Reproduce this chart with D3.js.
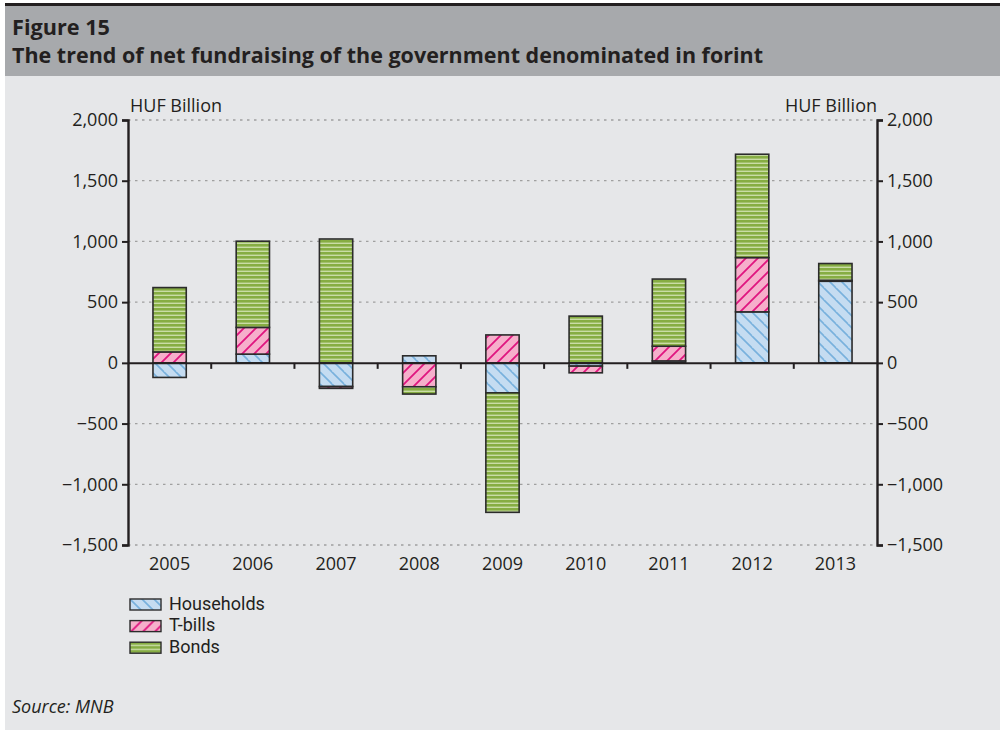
<!DOCTYPE html>
<html>
<head>
<meta charset="utf-8">
<script src="https://cdn.jsdelivr.net/npm/d3@7"></script>
<style>
  body { margin: 0; background: #fff; }
  svg { display: block; font-family: "Open Sans", "Noto Sans", sans-serif; }
</style>
</head>
<body>
<div id="chart"></div>
<script>
// data (HUF billion)
var years = ['2005', '2006', '2007', '2008', '2009', '2010', '2011', '2012', '2013'];
var households = [-120, 72, -195, 58, -247, -27, 16, 420, 672];
var tbills = [90, 220, -15, -197, 230, -55, 121, 447, 8];
var bonds = [530, 710, 1020, -60, -984, 385, 553, 851, 138];
var yTicks = [-1500, -1000, -500, 0, 500, 1000, 1500, 2000];

var seriesNames = ['Households', 'T-bills', 'Bonds'];

var svgWidth = 1000, svgHeight = 730;

var svg = d3.select('#chart').append('svg')
  .attr('width', svgWidth)
  .attr('height', svgHeight);

// background panel + header
svg.append('rect').attr('x', 5).attr('y', 5).attr('width', 995).attr('height', 725).attr('fill', '#e6e7e9');
svg.append('rect').attr('x', 5).attr('y', 5).attr('width', 995).attr('height', 71).attr('fill', '#a7a9ac');
svg.append('rect').attr('x', 5).attr('y', 3).attr('width', 995).attr('height', 3).attr('fill', '#231f20');

svg.append('text').attr('x', 12).attr('y', 35)
  .attr('font-size', 21).attr('font-weight', 'bold').attr('fill', '#231f20')
  .attr('textLength', 98).attr('lengthAdjust', 'spacingAndGlyphs')
  .text('Figure 15');
svg.append('text').attr('x', 12).attr('y', 63)
  .attr('font-size', 21).attr('font-weight', 'bold').attr('fill', '#231f20')
  .attr('textLength', 751).attr('lengthAdjust', 'spacingAndGlyphs')
  .text('The trend of net fundraising of the government denominated in forint');

// patterns
var defs = svg.append('defs');
var p1 = defs.append('pattern').attr('id', 'pHh').attr('patternUnits', 'userSpaceOnUse')
  .attr('width', 12).attr('height', 12);
p1.append('rect').attr('width', 12).attr('height', 12).attr('fill', '#c5dcf1');
p1.append('path').attr('d', 'M0,0 L12,12 M-6,6 L0,12 M6,-6 L18,6 M-6,-6 L6,6')
  .attr('stroke', '#78b1dd').attr('stroke-width', 1.6);

var p2 = defs.append('pattern').attr('id', 'pTb').attr('patternUnits', 'userSpaceOnUse')
  .attr('width', 12).attr('height', 12);
p2.append('rect').attr('width', 12).attr('height', 12).attr('fill', '#f6afcb');
p2.append('path').attr('d', 'M0,12 L12,0 M-6,6 L6,-6 M6,18 L18,6')
  .attr('stroke', '#e0157f').attr('stroke-width', 1.8);

var p3 = defs.append('pattern').attr('id', 'pBd').attr('patternUnits', 'userSpaceOnUse')
  .attr('width', 8).attr('height', 4);
p3.append('rect').attr('width', 8).attr('height', 4).attr('fill', '#86ad43');
p3.append('rect').attr('y', 2.6).attr('width', 8).attr('height', 1.4).attr('fill', '#c9dca6');

var fills = ['url(#pHh)', 'url(#pTb)', 'url(#pBd)'];

// chart area
var margin = { left: 128, right: 123, top: 120, bottom: 185 };
var width = svgWidth - margin.left - margin.right;
var height = svgHeight - margin.top - margin.bottom;

var chart = svg.append('g').attr('transform', `translate(${margin.left},${margin.top})`);

var x = d3.scaleBand().domain(years).range([0, width]).paddingInner(0.6).paddingOuter(0.3);
var xb = d3.scaleBand().domain(years).range([0, width]);
var y = d3.scaleLinear().domain([-1500, 2000]).range([height, 0]);

// gridlines
chart.append('g').selectAll('line')
  .data(yTicks.filter(d => d !== 0))
  .enter().append('line')
  .attr('x1', 0).attr('x2', width)
  .attr('y1', d => y(d)).attr('y2', d => y(d))
  .attr('stroke', '#a0a0a0').attr('stroke-width', 1.3)
  .attr('stroke-dasharray', '2.5,4.5');

// stack the values: positives up, negatives down
var rows = years.map(function(yr, i) {
  var vals = [households[i], tbills[i], bonds[i]];
  var pos = 0, neg = 0;
  return vals.map(function(v, k) {
    var y0, y1;
    if (v >= 0) { y0 = pos; y1 = pos + v; pos = y1; }
    else { y0 = neg; y1 = neg + v; neg = y1; }
    return { year: yr, k: k, y0: y0, y1: y1 };
  });
});
var segs = [].concat.apply([], rows);

chart.append('g').selectAll('rect')
  .data(segs)
  .enter().append('rect')
  .attr('x', d => x(d.year))
  .attr('width', x.bandwidth())
  .attr('y', d => y(Math.max(d.y0, d.y1)))
  .attr('height', d => Math.abs(y(d.y0) - y(d.y1)))
  .attr('fill', d => fills[d.k])
  .attr('stroke', '#2b2b2b').attr('stroke-width', 1.6);

// zero line with category ticks
chart.append('g')
  .attr('transform', `translate(0,${y(0)})`)
  .call(d3.axisBottom(xb).tickSize(0).tickFormat(''))
  .call(g => g.select('.domain').attr('stroke', '#231f20').attr('stroke-width', 2));
chart.append('g').selectAll('line')
  .data(years.slice(1))
  .enter().append('line')
  .attr('x1', d => xb(d)).attr('x2', d => xb(d))
  .attr('y1', y(0)).attr('y2', y(0) + 6)
  .attr('stroke', '#231f20').attr('stroke-width', 2);

// category labels
chart.append('g').selectAll('text')
  .data(years)
  .enter().append('text')
  .attr('x', d => xb(d) + xb.bandwidth() / 2)
  .attr('y', height + 25)
  .attr('text-anchor', 'middle')
  .attr('font-size', 18).attr('fill', '#231f20')
  .text(d => d);

// y axes
var fmt = d => (d < 0 ? '\u2212' : '') + d3.format(',')(Math.abs(d));
var leftAxis = d3.axisLeft(y).tickValues(yTicks).tickSize(6).tickPadding(4).tickFormat(fmt);
var rightAxis = d3.axisRight(y).tickValues(yTicks).tickSize(6).tickPadding(4).tickFormat(fmt);

function styleAxis(g) {
  g.select('.domain').attr('stroke', '#231f20').attr('stroke-width', 2.4);
  g.selectAll('.tick line').attr('stroke', '#231f20').attr('stroke-width', 2);
  g.selectAll('.tick text').attr('font-size', 18).attr('fill', '#231f20')
    .attr('font-family', '"Open Sans", sans-serif');
}
chart.append('g').call(leftAxis).call(styleAxis);
chart.append('g').attr('transform', `translate(${width},0)`).call(rightAxis).call(styleAxis);

chart.append('text').attr('x', 2).attr('y', -8)
  .attr('font-size', 18).attr('fill', '#231f20').text('HUF Billion');
chart.append('text').attr('x', width).attr('y', -8).attr('text-anchor', 'end')
  .attr('font-size', 18).attr('fill', '#231f20').text('HUF Billion');

// legend
var legend = svg.append('g').attr('transform', 'translate(130,599)');
var li = legend.selectAll('g').data(seriesNames).enter().append('g')
  .attr('transform', (d, i) => `translate(0,${i * 21.6})`);
li.append('rect').attr('width', 31).attr('height', 11)
  .attr('fill', (d, i) => fills[i]).attr('stroke', '#2b2b2b').attr('stroke-width', 1.4);
li.append('text').attr('x', 39).attr('y', 10.5)
  .attr('font-size', 18).attr('font-family', 'Roboto, sans-serif').attr('fill', '#231f20')
  .text(d => d);

// source
svg.append('text').attr('x', 12).attr('y', 713)
  .attr('font-size', 18).attr('font-style', 'italic').attr('fill', '#231f20')
  .text('Source: MNB');
</script>
</body>
</html>
